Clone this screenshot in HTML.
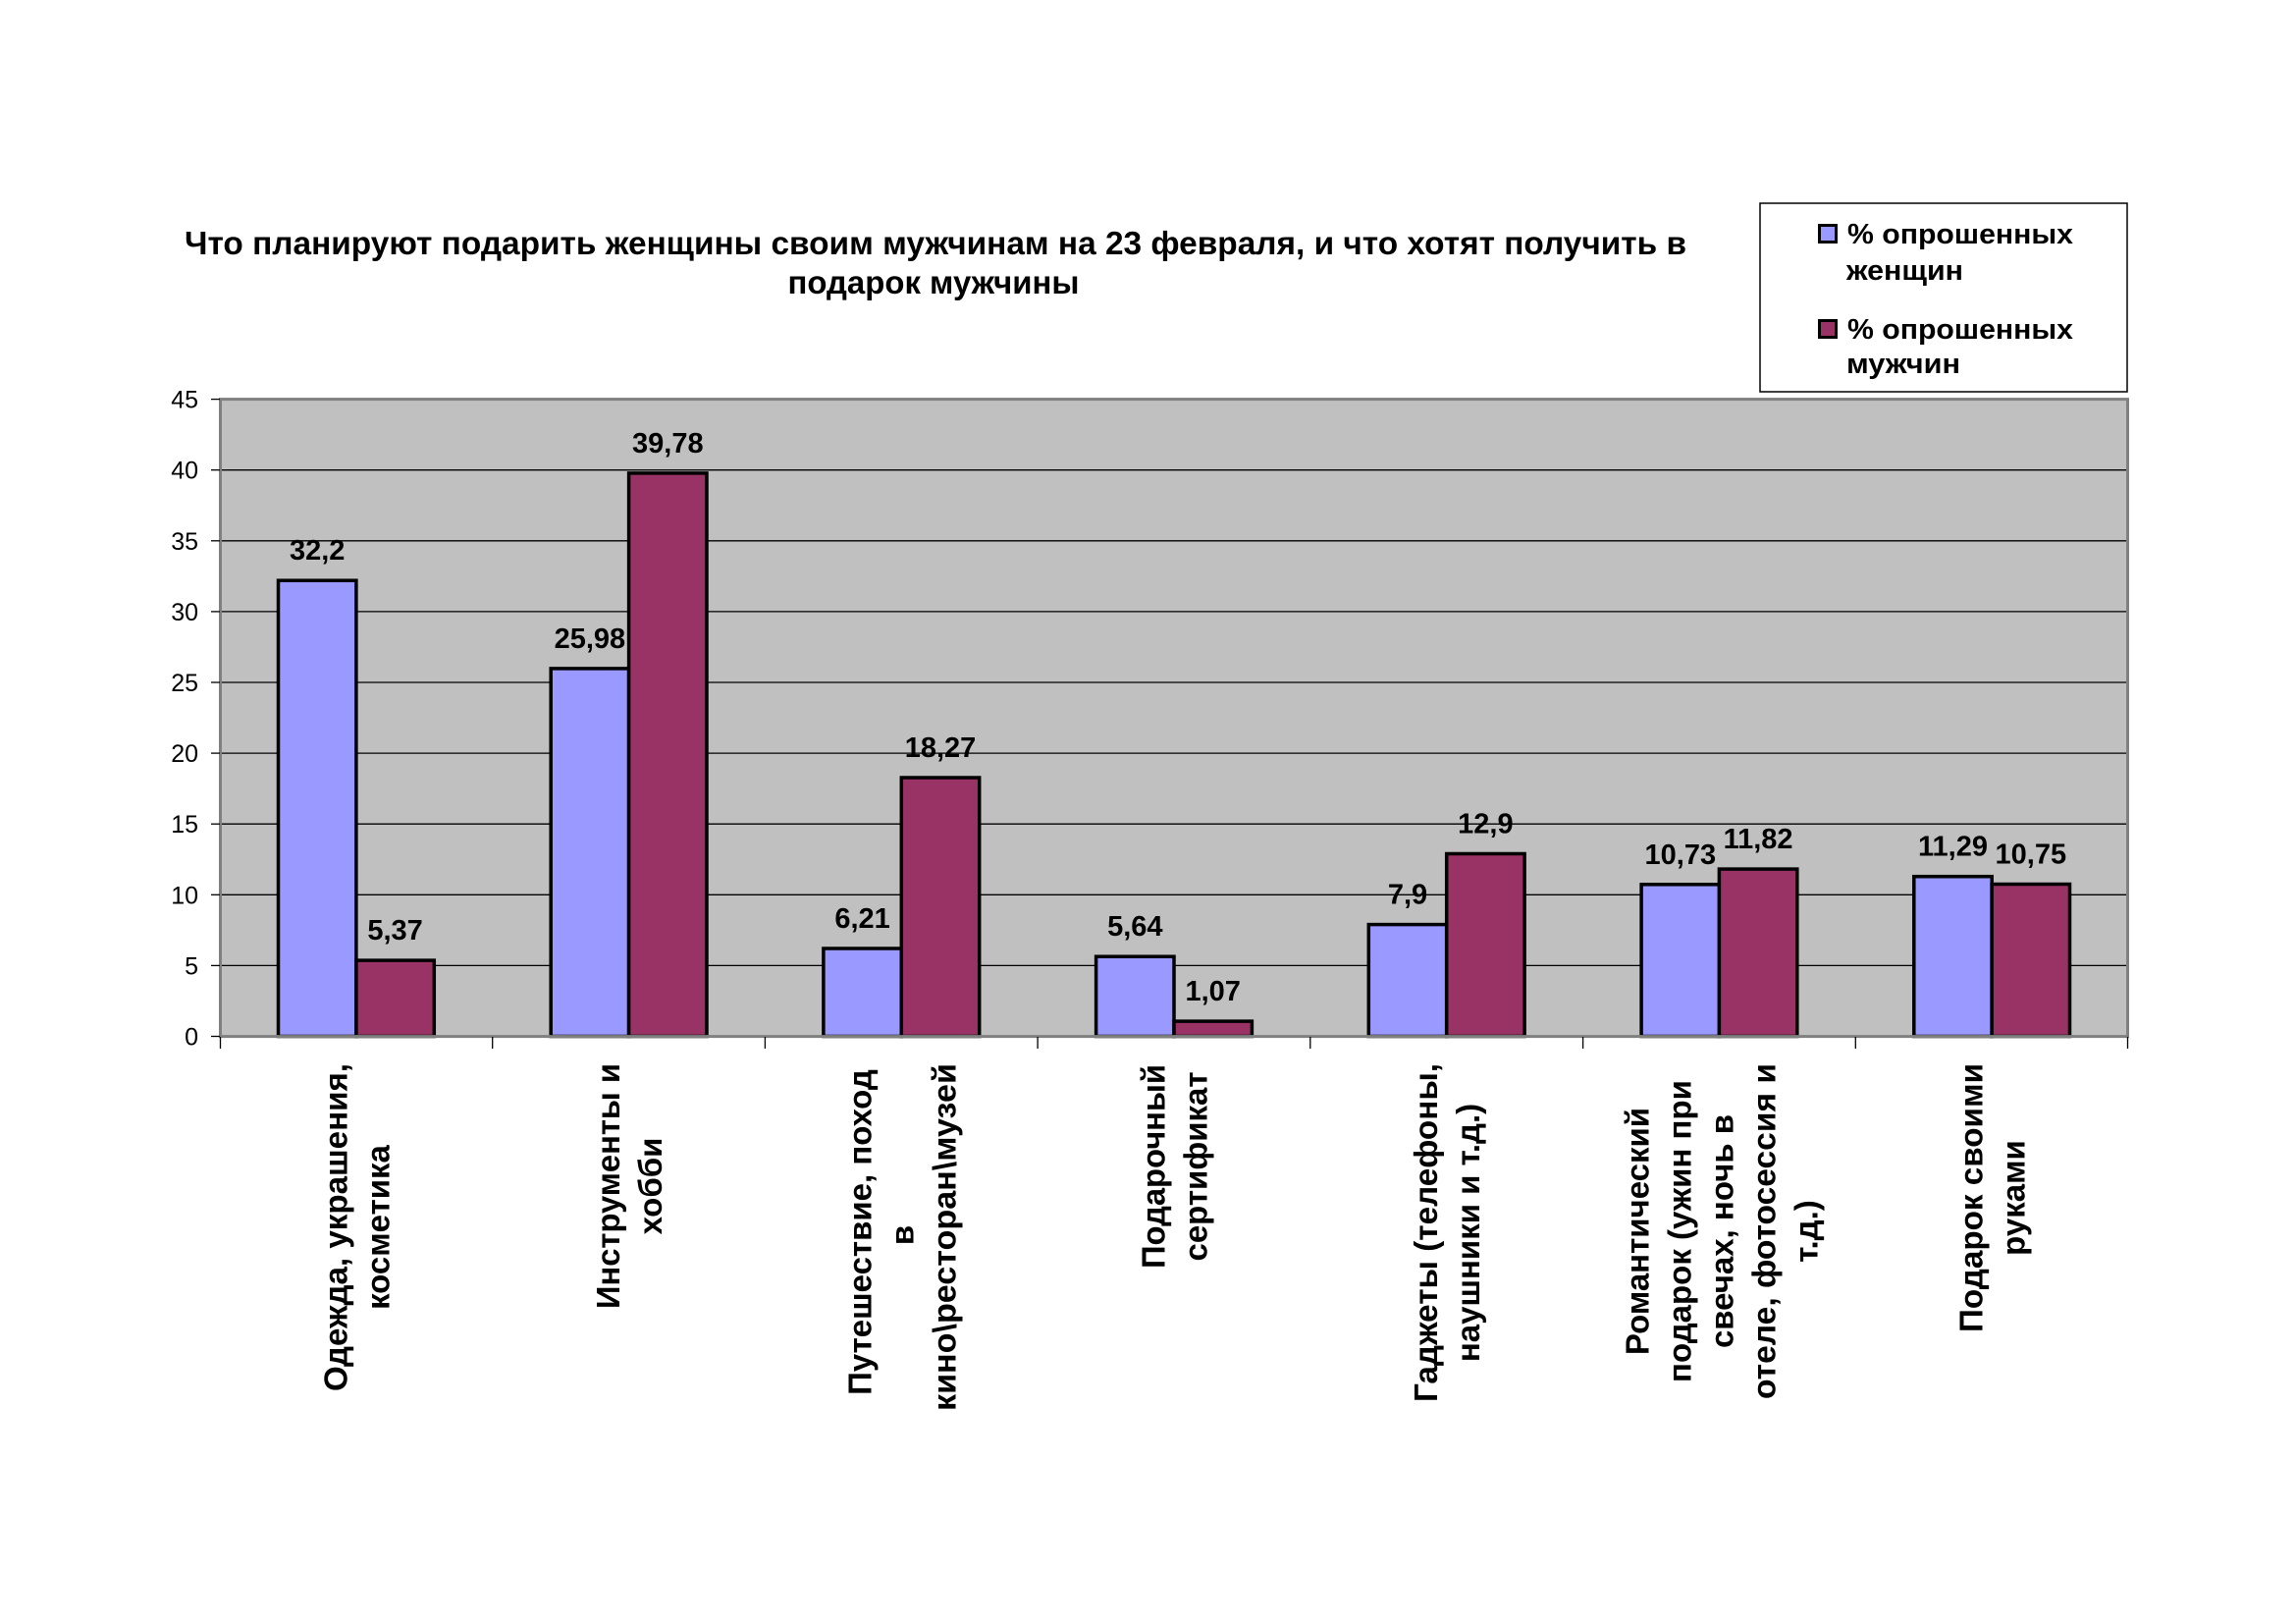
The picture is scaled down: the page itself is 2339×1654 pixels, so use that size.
<!DOCTYPE html>
<html lang="ru">
<head>
<meta charset="utf-8">
<title>Что планируют подарить женщины своим мужчинам на 23 февраля</title>
<style>
  html,body{margin:0;padding:0;background:#fff;}
  svg{display:block;}
  text{font-family:"Liberation Sans","DejaVu Sans",sans-serif;fill:#000;}
  .b{font-weight:bold;}
</style>
</head>
<body>
<svg width="2339" height="1654" viewBox="0 0 2339 1654" xmlns="http://www.w3.org/2000/svg">
  <rect x="0" y="0" width="2339" height="1654" fill="#fff"/>

  <!-- Title -->
  <text class="b" x="953" y="259" font-size="33" text-anchor="middle" textLength="1530" lengthAdjust="spacingAndGlyphs">Что планируют подарить женщины своим мужчинам на 23 февраля, и что хотят получить в</text>
  <text class="b" x="951" y="299" font-size="33" text-anchor="middle" textLength="297" lengthAdjust="spacingAndGlyphs">подарок мужчины</text>

  <!-- Legend -->
  <rect x="1793" y="207" width="374" height="192" fill="#fff" stroke="#000" stroke-width="1.5"/>
  <rect x="1853.5" y="229.5" width="17" height="17" fill="#9999FF" stroke="#000" stroke-width="3"/>
  <text class="b" x="1882" y="248" font-size="28.5" textLength="230" lengthAdjust="spacingAndGlyphs">% опрошенных</text>
  <text class="b" x="1881" y="285" font-size="28.5" textLength="119" lengthAdjust="spacingAndGlyphs">женщин</text>
  <rect x="1853.5" y="326.5" width="17" height="17" fill="#993366" stroke="#000" stroke-width="3"/>
  <text class="b" x="1882" y="345" font-size="28.5" textLength="230" lengthAdjust="spacingAndGlyphs">% опрошенных</text>
  <text class="b" x="1881" y="380" font-size="28.5" textLength="116" lengthAdjust="spacingAndGlyphs">мужчин</text>

  <!-- Plot area -->
  <rect x="224" y="406.6" width="1944" height="648.9" fill="#C0C0C0"/>

  <!-- Gridlines -->
  <g stroke="#000" stroke-width="1.3">
    <line x1="224" y1="983.4" x2="2168" y2="983.4"/>
    <line x1="224" y1="911.3" x2="2168" y2="911.3"/>
    <line x1="224" y1="839.2" x2="2168" y2="839.2"/>
    <line x1="224" y1="767.1" x2="2168" y2="767.1"/>
    <line x1="224" y1="695.0" x2="2168" y2="695.0"/>
    <line x1="224" y1="622.9" x2="2168" y2="622.9"/>
    <line x1="224" y1="550.8" x2="2168" y2="550.8"/>
    <line x1="224" y1="478.7" x2="2168" y2="478.7"/>
  </g>

  <!-- Bars -->
  <g stroke="#000" stroke-width="3.5">
    <!-- women (blue) -->
    <rect x="283.5"  y="591.2" width="79.4" height="464.3" fill="#9999FF"/>
    <rect x="561.2"  y="680.9" width="79.4" height="374.6" fill="#9999FF"/>
    <rect x="838.9"  y="966.0" width="79.4" height="89.5"  fill="#9999FF"/>
    <rect x="1116.6" y="974.2" width="79.4" height="81.3"  fill="#9999FF"/>
    <rect x="1394.3" y="941.6" width="79.4" height="113.9" fill="#9999FF"/>
    <rect x="1672.1" y="900.8" width="79.4" height="154.7" fill="#9999FF"/>
    <rect x="1949.8" y="892.7" width="79.4" height="162.8" fill="#9999FF"/>
    <!-- men (red) -->
    <rect x="362.9"  y="978.1" width="79.4" height="77.4"  fill="#993366"/>
    <rect x="640.6"  y="481.9" width="79.4" height="573.6" fill="#993366"/>
    <rect x="918.3"  y="792.0" width="79.4" height="263.5" fill="#993366"/>
    <rect x="1196.0" y="1040.1" width="79.4" height="15.4" fill="#993366"/>
    <rect x="1473.7" y="869.5" width="79.4" height="186.0" fill="#993366"/>
    <rect x="1751.4" y="885.1" width="79.4" height="170.4" fill="#993366"/>
    <rect x="2029.1" y="900.5" width="79.4" height="155.0" fill="#993366"/>
  </g>

  <!-- Plot border / axes -->
  <rect x="224.5" y="406.6" width="1943" height="649" fill="none" stroke="#808080" stroke-width="3"/>

  <!-- Y ticks -->
  <g stroke="#000" stroke-width="1.3">
    <line x1="215" y1="1055.5" x2="224" y2="1055.5"/>
    <line x1="215" y1="983.4" x2="224" y2="983.4"/>
    <line x1="215" y1="911.3" x2="224" y2="911.3"/>
    <line x1="215" y1="839.2" x2="224" y2="839.2"/>
    <line x1="215" y1="767.1" x2="224" y2="767.1"/>
    <line x1="215" y1="695.0" x2="224" y2="695.0"/>
    <line x1="215" y1="622.9" x2="224" y2="622.9"/>
    <line x1="215" y1="550.8" x2="224" y2="550.8"/>
    <line x1="215" y1="478.7" x2="224" y2="478.7"/>
    <line x1="215" y1="406.6" x2="224" y2="406.6"/>
    <!-- X ticks -->
    <line x1="224.5" y1="1056" x2="224.5" y2="1068"/>
    <line x1="501.7" y1="1056" x2="501.7" y2="1068"/>
    <line x1="779.4" y1="1056" x2="779.4" y2="1068"/>
    <line x1="1057.1" y1="1056" x2="1057.1" y2="1068"/>
    <line x1="1334.8" y1="1056" x2="1334.8" y2="1068"/>
    <line x1="1612.6" y1="1056" x2="1612.6" y2="1068"/>
    <line x1="1890.3" y1="1056" x2="1890.3" y2="1068"/>
    <line x1="2167.5" y1="1056" x2="2167.5" y2="1068"/>
  </g>

  <!-- Y labels -->
  <g font-size="25" text-anchor="end">
    <text x="202" y="1064.5">0</text>
    <text x="202" y="992.4">5</text>
    <text x="202" y="920.3">10</text>
    <text x="202" y="848.2">15</text>
    <text x="202" y="776.1">20</text>
    <text x="202" y="704.0">25</text>
    <text x="202" y="631.9">30</text>
    <text x="202" y="559.8">35</text>
    <text x="202" y="487.7">40</text>
    <text x="202" y="415.6">45</text>
  </g>

  <!-- Data labels -->
  <g class="b" font-size="29" font-weight="bold" text-anchor="middle">
    <text x="323.2"  y="570.2">32,2</text>
    <text x="600.9"  y="659.9">25,98</text>
    <text x="878.6"  y="945.0">6,21</text>
    <text x="1156.3" y="953.2">5,64</text>
    <text x="1434.0" y="920.6">7,9</text>
    <text x="1711.8" y="879.8">10,73</text>
    <text x="1989.5" y="871.7">11,29</text>

    <text x="402.6"  y="957.1">5,37</text>
    <text x="680.3"  y="460.9">39,78</text>
    <text x="958.0"  y="771.0">18,27</text>
    <text x="1235.7" y="1019.1">1,07</text>
    <text x="1513.4" y="848.5">12,9</text>
    <text x="1791.1" y="864.1">11,82</text>
    <text x="2068.8" y="879.5">10,75</text>
  </g>

  <!-- Category labels (rotated) -->
  <g font-size="33" font-weight="bold" text-anchor="middle">
    <!-- 1: c=362.9, center y=1250 -->
    <text transform="translate(353.4,1250) rotate(-90)" textLength="334" lengthAdjust="spacingAndGlyphs">Одежда, украшения,</text>
    <text transform="translate(396.4,1250) rotate(-90)">косметика</text>
    <!-- 2: c=640.6, center y=1208 -->
    <text transform="translate(631.1,1208) rotate(-90)" textLength="250" lengthAdjust="spacingAndGlyphs">Инструменты и</text>
    <text transform="translate(674.1,1208) rotate(-90)">хобби</text>
    <!-- 3: c=918.3, center y=1258 -->
    <text transform="translate(887.3,1255) rotate(-90)">Путешествие, поход</text>
    <text transform="translate(930.3,1258) rotate(-90)">в</text>
    <text transform="translate(973.3,1260) rotate(-90)" textLength="354" lengthAdjust="spacingAndGlyphs">кино\ресторан\музей</text>
    <!-- 4: c=1196.0, center y=1188 -->
    <text transform="translate(1186.5,1188) rotate(-90)" textLength="208" lengthAdjust="spacingAndGlyphs">Подарочный</text>
    <text transform="translate(1229.5,1188) rotate(-90)">сертификат</text>
    <!-- 5: c=1473.7, center y=1255.5 -->
    <text transform="translate(1464.2,1255.5) rotate(-90)" textLength="345" lengthAdjust="spacingAndGlyphs">Гаджеты (телефоны,</text>
    <text transform="translate(1507.2,1255.5) rotate(-90)">наушники и т.д.)</text>
    <!-- 6: c=1751.4, center y=1254 -->
    <text transform="translate(1679.4,1254) rotate(-90)">Романтический</text>
    <text transform="translate(1722.4,1254) rotate(-90)">подарок (ужин при</text>
    <text transform="translate(1765.4,1254) rotate(-90)">свечах, ночь в</text>
    <text transform="translate(1808.4,1254) rotate(-90)" textLength="342" lengthAdjust="spacingAndGlyphs">отеле, фотосессия и</text>
    <text transform="translate(1851.4,1254) rotate(-90)">т.д.)</text>
    <!-- 7: c=2029.1, center y=1220 -->
    <text transform="translate(2019.6,1220) rotate(-90)" textLength="274" lengthAdjust="spacingAndGlyphs">Подарок своими</text>
    <text transform="translate(2062.6,1220) rotate(-90)">руками</text>
  </g>
</svg>
</body>
</html>
